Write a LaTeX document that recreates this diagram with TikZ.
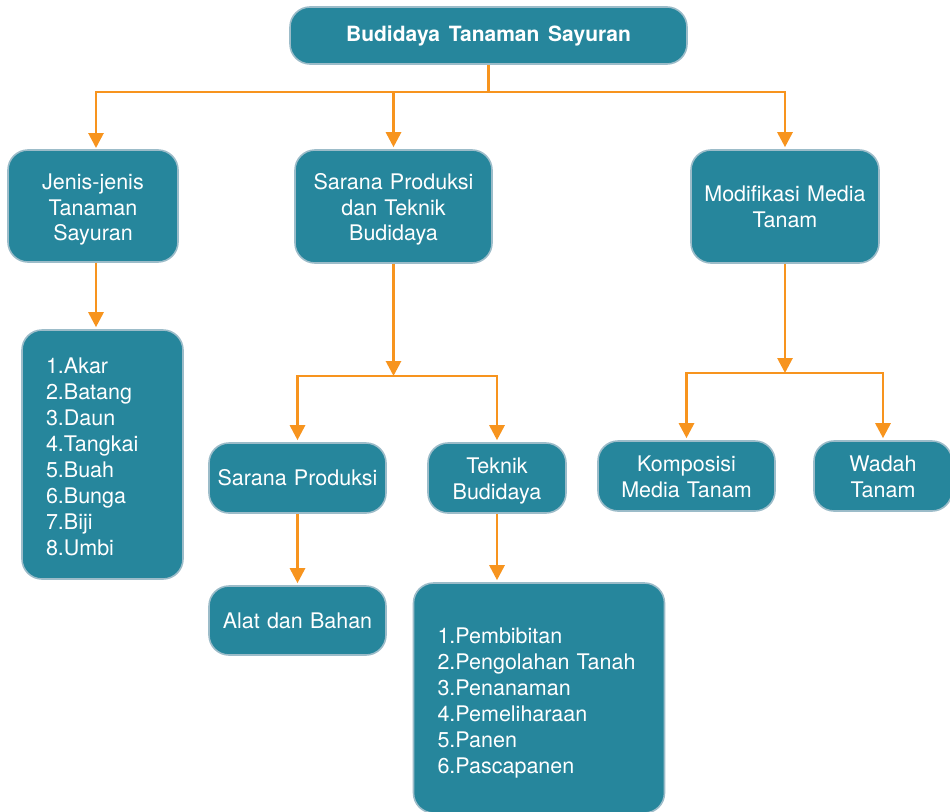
\documentclass[tikz,border=0pt]{standalone}
\usepackage{fontspec}
\setmainfont{TeX Gyre Heros}[WordSpace=1.5]
\usetikzlibrary{arrows.meta,calc}
\definecolor{teal1}{HTML}{26869C}
\definecolor{edge1}{HTML}{9CBCC9}
\definecolor{orng}{HTML}{F7941E}
\tikzset{
  box/.style={draw=edge1, line width=1.6pt, fill=teal1, rounded corners=20pt,
    text=white, align=center, inner sep=0pt, font=\fontsize{21.5}{25.8}\selectfont},
  listbox/.style={box, align=left, inner xsep=24pt, font=\fontsize{21.5}{26}\selectfont},
  conn/.style={draw=orng, line width=2.8pt},
  arr/.style={conn, -{Triangle[width=15pt,length=15pt]}, shorten >=2pt},
}
\begin{document}
\begin{tikzpicture}[x=1pt,y=-1pt]
\useasboundingbox (0,0) rectangle (950,811);
\clip (0,0) rectangle (950,811);
% nodes
\node[box, minimum width=397pt, minimum height=57pt, font=\fontsize{21}{25.7}\selectfont\bfseries] (top) at (488.5,35.5) {Budidaya Tanaman Sayuran};
\node[box, text width=170pt, minimum height=112pt, text height=23pt] (jenis) at (93,206) {Jenis-jenis\\Tanaman\\Sayuran};
\node[box, text width=197pt, minimum height=113pt, text height=22pt] (sarana) at (393.5,206.5) {Sarana Produksi\\dan Teknik\\Budidaya};
\node[box, text width=188pt, minimum height=113pt, text height=17pt] (modif) at (785,206.5) {Modifikasi Media\\Tanam};
\node[listbox, text width=113pt, minimum height=249pt, text height=20pt] (akar) at (102.5,454.5) {1.Akar\\2.Batang\\3.Daun\\4.Tangkai\\5.Buah\\6.Bunga\\7.Biji\\8.Umbi};
\node[box, text width=177pt, minimum height=70pt] (sp) at (297.5,478) {Sarana Produksi};
\node[box, text width=138pt, minimum height=70pt, text height=21pt] (tb) at (497,478) {Teknik\\Budidaya};
\node[box, text width=177pt, minimum height=69pt] (alat) at (297.5,620.5) {Alat dan Bahan};
\node[listbox, text width=203pt, minimum height=230pt, text height=26pt] (pemb) at (539,698) {1.Pembibitan\\2.Pengolahan Tanah\\3.Penanaman\\4.Pemeliharaan\\5.Panen\\6.Pascapanen};
\node[box, text width=177pt, minimum height=70pt, text height=18pt] (komp) at (686.5,476) {Komposisi\\Media Tanam};
\node[box, text width=138pt, minimum height=70pt, text height=18pt] (wadah) at (883,476) {Wadah\\Tanam};
% hubs
\coordinate (hub1) at (488.5,92);
\coordinate (hub2) at (393.5,376);
\coordinate (hub3) at (785,373);
\coordinate (jin) at (96,150);
% connectors
\draw[conn] (top) -- (hub1);
\draw[arr] (hub1) -| (jin);
\draw[arr] (hub1) -| (sarana);
\draw[arr] (hub1) -| (modif);
\draw[arr] (jenis.south -| jin) -- (akar.north -| jin);
\draw[arr, shorten >=0pt] (sarana) -- (hub2);
\draw[arr] (hub2) -| (sp);
\draw[arr] (hub2) -| (tb);
\draw[arr] (sp) -- (alat);
\draw[arr] (tb.south) -- (tb.south |- pemb.north);
\draw[arr, shorten >=0pt] (modif) -- (hub3);
\draw[arr] (hub3) -| (komp);
\draw[arr] (hub3) -| (wadah);
\end{tikzpicture}
\end{document}
